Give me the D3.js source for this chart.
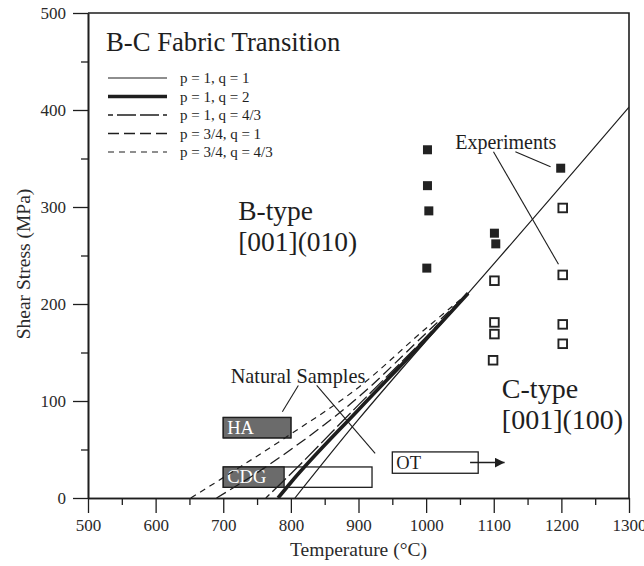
<!DOCTYPE html>
<html>
<head>
<meta charset="utf-8">
<script src="https://cdn.jsdelivr.net/npm/d3@7"></script>
<style>
  html, body { margin: 0; padding: 0; background: #fff; }
  svg text { font-family: "Liberation Serif", Tinos, "DejaVu Serif", serif; }
</style>
</head>
<body>
<svg id="chart" width="644" height="566"></svg>
<script>
// ---- data ----
const temperatureTicks = [500, 600, 700, 800, 900, 1000, 1100, 1200, 1300];
const temperatureMinorTicks = [550, 650, 750, 850, 950, 1050, 1150, 1250];
const stressTicks = [0, 100, 200, 300, 400, 500];
const stressMinorTicks = [50, 150, 250, 350, 450];

// B-C transition boundaries, [temperature °C, shear stress MPa]
const seriesLabels = ["p = 1, q = 1", "p = 1, q = 2", "p = 1, q = 4/3", "p = 3/4, q = 1", "p = 3/4, q = 4/3"];
const boundaryP1Q1 = [[806, 0], [900, 81], [1000, 162], [1062, 211], [1300, 403]];
const boundaryP1Q2 = [[781, 0], [800, 16], [900, 91], [1000, 164], [1062, 211]];
const boundaryP1Q43 = [[763, 0], [800, 25], [900, 96], [1000, 166], [1062, 211]];
const boundaryP34Q1 = [[690, 0], [750, 26], [800, 50], [900, 104], [1000, 170], [1062, 211]];
const boundaryP34Q43 = [[652, 0], [700, 21], [800, 66], [900, 114], [1000, 175], [1062, 211]];

// experiments: B-type (filled) and C-type (open)
const bTypeTemps = [1002, 1002, 1004, 1001, 1101, 1103, 1199];
const bTypeStress = [359, 322, 296, 237, 273, 262, 340];
const cTypeTemps = [1101, 1101, 1101, 1099, 1202, 1202, 1202, 1202];
const cTypeStress = [224, 181, 169, 142, 299, 230, 179, 159];

// natural samples: name, temperature range, grey part end, stress band
const sampleNames = ["HA", "CDG", "OT"];
const sampleTempFrom = [700, 700, 950];
const sampleTempTo = [800, 920, 1077];
const sampleGreyTo = [800, 790, 950];
const sampleStressLow = [62, 11, 25.5];
const sampleStressHigh = [83, 32, 47.5];

// ---- layout ----
const svg = d3.select("#chart");
const ink = "#1e1e1e";
const serif = '"Liberation Serif", Tinos, "DejaVu Serif", serif';
const x = d3.scaleLinear().domain([500, 1300]).range([88, 629]);
const y = d3.scaleLinear().domain([0, 500]).range([498, 13]);

// frame (top + right)
svg.append("path")
  .attr("d", `M${x(500)},${y(500)}H${x(1300)}V${y(0)}`)
  .attr("fill", "none").attr("stroke", ink).attr("stroke-width", 1.6);

// axes
const fmt = d3.format("d");
const xAxis = d3.axisBottom(x).tickValues(temperatureTicks).tickFormat(fmt).tickSize(15).tickPadding(6).tickSizeOuter(0);
const xMinor = d3.axisBottom(x).tickValues(temperatureMinorTicks).tickSize(7).tickFormat("").tickSizeOuter(0);
const yAxis = d3.axisLeft(y).tickValues(stressTicks).tickFormat(fmt).tickSize(15).tickPadding(7).tickSizeOuter(0);
const yMinor = d3.axisLeft(y).tickValues(stressMinorTicks).tickSize(7).tickFormat("").tickSizeOuter(0);

function styleAxis(g) {
  g.attr("font-family", serif).attr("font-size", 17);
  g.selectAll(".domain").attr("stroke", ink).attr("stroke-width", 1.6);
  g.selectAll(".tick line").attr("stroke", ink).attr("stroke-width", 1.3);
  g.selectAll(".tick text").attr("fill", "#2a2a2a");
}
svg.append("g").attr("transform", `translate(0,${y(0)})`).call(xMinor).call(styleAxis);
svg.append("g").attr("transform", `translate(0,${y(0)})`).call(xAxis).call(styleAxis);
svg.append("g").attr("transform", `translate(${x(500)},0)`).call(yMinor).call(styleAxis);
svg.append("g").attr("transform", `translate(${x(500)},0)`).call(yAxis).call(styleAxis);

// axis titles
svg.append("text").attr("x", (x(500) + x(1300)) / 2).attr("y", 556)
  .attr("text-anchor", "middle").attr("fill", "#2a2a2a").attr("font-size", 19.5)
  .text("Temperature (°C)");
svg.append("text").attr("transform", `translate(30,264) rotate(-90)`)
  .attr("text-anchor", "middle").attr("fill", "#2a2a2a").attr("font-size", 19.5)
  .text("Shear Stress (MPa)");

// boundary line styles
const styles = [
  { data: boundaryP1Q1, width: 1.2, dash: null, offset: 0 },
  { data: boundaryP1Q2, width: 3.6, dash: null, offset: 0 },
  { data: boundaryP1Q43, width: 1.3, dash: "19,4", offset: 14 },
  { data: boundaryP34Q1, width: 1.3, dash: "11,5", offset: 0 },
  { data: boundaryP34Q43, width: 1.2, dash: "6,5", offset: 0 }
];
const line = d3.line().x(d => x(d[0])).y(d => y(d[1])).curve(d3.curveMonotoneX);

const plot = svg.append("g");
plot.append("clipPath").attr("id", "plotclip").append("rect")
  .attr("x", x(500)).attr("y", y(500)).attr("width", x(1300) - x(500)).attr("height", y(0) - y(500));

// natural sample bars
sampleNames.forEach((name, i) => {
  const y0 = y(sampleStressHigh[i]), h = y(sampleStressLow[i]) - y(sampleStressHigh[i]);
  plot.append("rect").attr("x", x(sampleTempFrom[i])).attr("y", y0)
    .attr("width", x(sampleTempTo[i]) - x(sampleTempFrom[i])).attr("height", h)
    .attr("fill", "#fff").attr("stroke", ink).attr("stroke-width", 1.3);
  if (sampleGreyTo[i] > sampleTempFrom[i]) {
    plot.append("rect").attr("x", x(sampleTempFrom[i])).attr("y", y0)
      .attr("width", x(sampleGreyTo[i]) - x(sampleTempFrom[i])).attr("height", h)
      .attr("fill", "#6b6b6b").attr("stroke", ink).attr("stroke-width", 1.3);
  }
  plot.append("text").attr("x", x(sampleTempFrom[i]) + 4).attr("y", y0 + h - 4)
    .attr("fill", sampleGreyTo[i] > sampleTempFrom[i] ? "#fff" : ink)
    .attr("font-size", 18.5).text(name);
});

// OT arrow
svg.append("defs").append("marker").attr("id", "arrowhead")
  .attr("viewBox", "0 0 10 10").attr("refX", 10).attr("refY", 5)
  .attr("markerWidth", 10).attr("markerHeight", 10).attr("markerUnits", "userSpaceOnUse")
  .attr("orient", "auto")
  .append("path").attr("d", "M0,0L10,5L0,10Z").attr("fill", ink);
plot.append("line").attr("x1", x(1065)).attr("x2", x(1116))
  .attr("y1", y(36.5)).attr("y2", y(36.5))
  .attr("stroke", ink).attr("stroke-width", 1.5).attr("marker-end", "url(#arrowhead)");

// boundaries
styles.forEach(s => {
  plot.append("path").attr("d", line(s.data)).attr("clip-path", "url(#plotclip)")
    .attr("fill", "none").attr("stroke", ink).attr("stroke-width", s.width)
    .attr("stroke-dasharray", s.dash).attr("stroke-dashoffset", s.offset);
});

// experiments
bTypeTemps.forEach((t, i) => {
  plot.append("rect").attr("x", x(t) - 4.5).attr("y", y(bTypeStress[i]) - 4.5)
    .attr("width", 9).attr("height", 9).attr("fill", "#222");
});
cTypeTemps.forEach((t, i) => {
  plot.append("rect").attr("x", x(t) - 4.3).attr("y", y(cTypeStress[i]) - 4.3)
    .attr("width", 8.6).attr("height", 8.6).attr("fill", "#fff")
    .attr("stroke", "#222").attr("stroke-width", 1.9);
});

// annotations
const callouts = [
  [[1132, 357], [1184, 341.5]],
  [[1099.6, 357], [1195.7, 241]],
  [[811, 116], [787.4, 89]],
  [[838.2, 116], [924.6, 46]]
];
callouts.forEach(c => {
  plot.append("line").attr("x1", x(c[0][0])).attr("y1", y(c[0][1]))
    .attr("x2", x(c[1][0])).attr("y2", y(c[1][1]))
    .attr("stroke", ink).attr("stroke-width", 1.1);
});
plot.append("text").attr("x", x(1043)).attr("y", y(359.5)).attr("fill", ink)
  .attr("font-size", 20).text("Experiments");
plot.append("text").attr("x", x(711)).attr("y", y(119)).attr("fill", ink)
  .attr("font-size", 20.3).text("Natural Samples");

// region labels
const regionLabels = [
  { t: 722, s: 287, size: 27.5, lines: ["B-type", "[001](010)"] },
  { t: 1112, s: 103, size: 28, lines: ["C-type", "[001](100)"] }
];
regionLabels.forEach(r => {
  r.lines.forEach((txt, j) => {
    plot.append("text").attr("x", x(r.t)).attr("y", y(r.s) + j * 31)
      .attr("fill", ink).attr("font-size", r.size).text(txt);
  });
});

// title and legend
svg.append("text").attr("x", 106).attr("y", 51).attr("fill", ink)
  .attr("font-size", 26.7).text("B-C Fabric Transition");
const legendY = [78, 96.5, 115, 133.5, 152];
styles.forEach((s, i) => {
  svg.append("line").attr("x1", 108).attr("x2", 167).attr("y1", legendY[i]).attr("y2", legendY[i])
    .attr("stroke", ink).attr("stroke-width", s.width)
    .attr("stroke-dasharray", s.dash).attr("stroke-dashoffset", s.offset);
  svg.append("text").attr("x", 180).attr("y", legendY[i] + 5).attr("fill", ink)
    .attr("font-size", 15).text(seriesLabels[i]);
});
</script>
</body>
</html>
